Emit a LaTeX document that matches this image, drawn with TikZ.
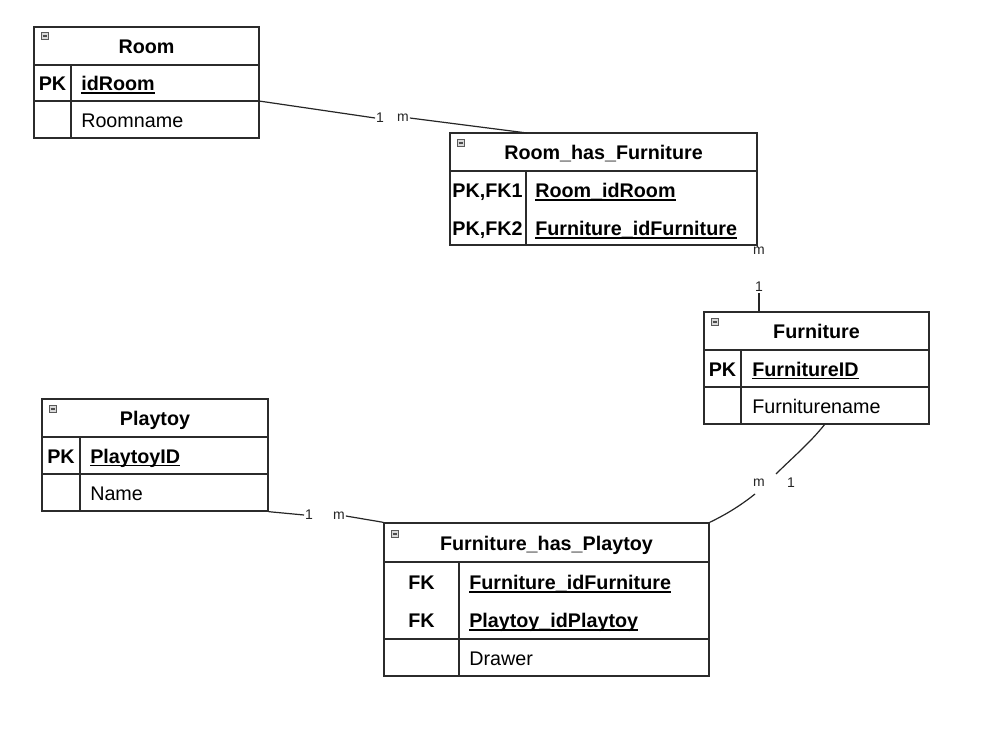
\documentclass[tikz,border=0pt]{standalone}
\usepackage{fontspec}
\setmainfont{Liberation Sans}
\usetikzlibrary{fit}
\newcommand\ulx[1]{\setbox0\hbox{\bfseries #1}\rlap{\rule[-2.5pt]{\wd0}{1.1pt}}\box0}
\definecolor{edge}{HTML}{2B2B2B}
\begin{document}
\begin{tikzpicture}[x=0.75pt,y=-0.75pt,
  font=\fontsize{14.8}{17}\selectfont,
  ent/.style={draw=edge, line width=1pt, inner sep=0pt},
  sepline/.style={draw=edge, line width=1pt},
  ttl/.style={font=\fontsize{14.8}{17}\selectfont\bfseries, anchor=base, inner sep=0pt},
  keytxt/.style={font=\fontsize{14.8}{17}\selectfont\bfseries, anchor=base, inner sep=0pt},
  fld/.style={anchor=base west, inner sep=0pt},
  lbl/.style={font=\fontsize{10.5}{12}\selectfont, inner sep=0.6pt, text=black!85},
  conn/.style={draw=black!85, line width=0.9pt},
  minus/.style={draw=gray!70!black, fill=gray!30, line width=0.5pt, minimum size=5.6pt, inner sep=0pt,
    path picture={\draw[black!70, line width=0.9pt] ([xshift=1.1pt]path picture bounding box.west) -- ([xshift=-1.1pt]path picture bounding box.east);}}
]
\useasboundingbox (0,0) rectangle (988,742);
\fill[white] (0,0) rectangle (988,742);

% Room
\node[ent, fit={(34,27) (259,138)}] (room) {};
\draw[sepline] (34,65) -- (259,65) (34,101) -- (259,101) (71,65) -- (71,138);
\node[minus] (roomI) at (45,36) {};
\node[ttl] (roomT) at (146.5,53.5) {Room};
\node[keytxt] (roomK) at (52.5,90.5) {PK};
\node[fld] (roomF1) at (81,90.5) {\ulx{idRoom}};
\node[fld] (roomF2) at (81,127) {Roomname};

% Room_has_Furniture
\node[ent, fit={(450,133) (757,245)}] (rhf) {};
\draw[sepline] (450,171) -- (757,171) (526,171) -- (526,245);
\node[minus] (rhfI) at (461,143) {};
\node[ttl] (rhfT) at (603.5,159.5) {Room\_has\_Furniture};
\node[keytxt] (rhfK1) at (487.5,197.5) {PK,FK1};
\node[keytxt] (rhfK2) at (487.5,235.5) {PK,FK2};
\node[fld] (rhfF1) at (535,197.5) {\ulx{Room\_idRoom}};
\node[fld] (rhfF2) at (535,235.5) {\ulx{Furniture\_idFurniture}};

% Furniture
\node[ent, fit={(704,312) (929,424)}] (fur) {};
\draw[sepline] (704,350) -- (929,350) (704,387) -- (929,387) (741,350) -- (741,424);
\node[minus] (furI) at (715,322) {};
\node[ttl] (furT) at (816.5,338.5) {Furniture};
\node[keytxt] (furK) at (722.5,376) {PK};
\node[fld] (furF1) at (752,376) {\ulx{FurnitureID}};
\node[fld] (furF2) at (752,413) {Furniturename};

% Playtoy
\node[ent, fit={(42,399) (268,511)}] (toy) {};
\draw[sepline] (42,437) -- (268,437) (42,474) -- (268,474) (80,437) -- (80,511);
\node[minus] (toyI) at (53,409) {};
\node[ttl] (toyT) at (155,425.5) {Playtoy};
\node[keytxt] (toyK) at (61,463) {PK};
\node[fld] (toyF1) at (90,463) {\ulx{PlaytoyID}};
\node[fld] (toyF2) at (90,500) {Name};

% Furniture_has_Playtoy
\node[ent, fit={(384,523) (709,676)}] (fhp) {};
\draw[sepline] (384,562) -- (709,562) (384,639) -- (709,639) (459,562) -- (459,676);
\node[minus] (fhpI) at (395,534) {};
\node[ttl] (fhpT) at (546.5,550) {Furniture\_has\_Playtoy};
\node[keytxt] (fhpK1) at (421.5,589.5) {FK};
\node[keytxt] (fhpK2) at (421.5,627.5) {FK};
\node[fld] (fhpF1) at (469,589.5) {\ulx{Furniture\_idFurniture}};
\node[fld] (fhpF2) at (469,627.5) {\ulx{Playtoy\_idPlaytoy}};
\node[fld] (fhpF3) at (469,665) {Drawer};

% Connector Room - Room_has_Furniture
\coordinate (roomR) at (259,101);
\coordinate (rhfTop) at (527,133);
\node[lbl] (l1a) at (380,118) {1};
\node[lbl] (l1b) at (403,118) {m};
\draw[conn] (roomR) -- (l1a.west);
\draw[conn] (l1b.east) -- (rhfTop);

% Connector Room_has_Furniture - Furniture
\node[lbl] (l2a) at (759,251) {m};
\node[lbl] (l2b) at (759,287) {1};
\draw[conn] (rhf.south east) -- (rhf.south east |- l2a.north);
\draw[conn] (l2b.south) -- (l2b.south |- fur.north);

% Connector Furniture - Furniture_has_Playtoy
\coordinate (furB) at (825,424);
\coordinate (c3a) at (776,474);
\coordinate (c3b) at (755,494);
\node[lbl] (l3a) at (791,483) {1};
\node[lbl] (l3b) at (759,483) {m};
\draw[conn] (furB) .. controls (810,443) and (792,458) .. (c3a);
\draw[conn] (c3b) .. controls (740,506) and (725,515) .. (fhp.north east);

% Connector Playtoy - Furniture_has_Playtoy
\node[lbl] (l4a) at (309,515) {1};
\node[lbl] (l4b) at (339,516) {m};
\draw[conn] (toy.south east) -- (l4a.west);
\draw[conn] (l4b.east) -- (fhp.north west);
\end{tikzpicture}
\end{document}
